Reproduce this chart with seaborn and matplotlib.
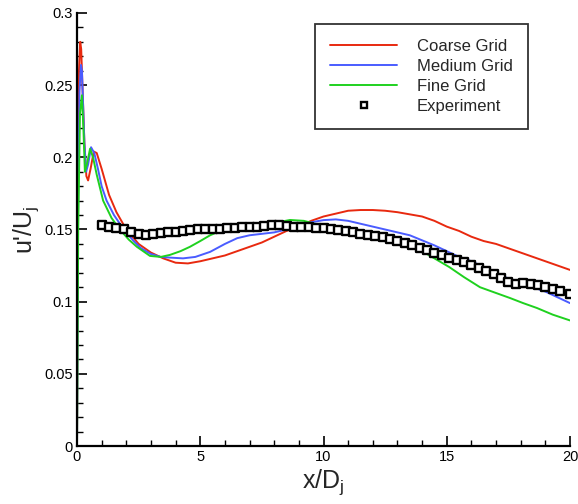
import numpy as np
import pandas as pd
import matplotlib
matplotlib.use("Agg")
import matplotlib.pyplot as plt
from matplotlib.ticker import MultipleLocator, FuncFormatter
from matplotlib.lines import Line2D
import seaborn as sns

# ---------------- data ----------------
coarse_x = [0, 0.03, 0.08, 0.13, 0.17, 0.22, 0.3, 0.38, 0.45, 0.55, 0.68, 0.8, 1.0, 1.3, 1.6,
            2.0, 2.5, 3.0, 3.5, 4.0, 4.5, 5.0, 5.5, 6.0, 6.5, 7.0, 7.5, 8.0, 8.5, 9.0, 9.5,
            10.0, 10.5, 11.0, 11.5, 12.0, 12.5, 13.0, 13.5, 14.0, 14.5, 15.0, 15.5, 16.0,
            16.5, 17.0, 17.5, 18.0, 18.5, 19.0, 19.5, 20.0]
coarse_y = [0, 0.15, 0.26, 0.28, 0.275, 0.25, 0.21, 0.187, 0.184, 0.192, 0.204, 0.203, 0.192,
            0.174, 0.162, 0.150, 0.140, 0.134, 0.130, 0.127, 0.1265, 0.128, 0.130, 0.132,
            0.135, 0.138, 0.141, 0.145, 0.149, 0.152, 0.156, 0.159, 0.161, 0.163, 0.1635,
            0.1635, 0.163, 0.162, 0.1605, 0.159, 0.156, 0.152, 0.149, 0.145, 0.142, 0.140,
            0.137, 0.134, 0.131, 0.128, 0.125, 0.122]

medium_x = [0, 0.04, 0.1, 0.16, 0.2, 0.25, 0.3, 0.37, 0.45, 0.57, 0.7, 0.85, 1.0, 1.2, 1.5,
            1.9, 2.3, 2.6, 3.0, 3.4, 3.8, 4.3, 4.8, 5.4, 6.0, 6.5, 7.0, 7.5, 8.0, 8.5, 9.0,
            9.5, 10.0, 10.5, 11.0, 11.5, 12.0, 12.5, 13.0, 13.5, 14.0, 14.5, 15.0, 15.5,
            16.0, 16.5, 17.0, 17.5, 18.0, 18.5, 19.0, 19.5, 20.0]
medium_y = [0, 0.16, 0.245, 0.264, 0.26, 0.235, 0.21, 0.19, 0.195, 0.207, 0.203, 0.192,
            0.180, 0.170, 0.160, 0.150, 0.142, 0.137, 0.133, 0.131, 0.1305, 0.130, 0.131,
            0.1345, 0.140, 0.144, 0.146, 0.147, 0.148, 0.150, 0.153, 0.155, 0.1565, 0.157,
            0.156, 0.154, 0.152, 0.150, 0.148, 0.146, 0.1425, 0.139, 0.135, 0.131, 0.128,
            0.124, 0.120, 0.116, 0.113, 0.110, 0.107, 0.103, 0.099]

fine_x = [0, 0.05, 0.12, 0.2, 0.26, 0.32, 0.4, 0.53, 0.65, 0.8, 1.06, 1.4, 1.74, 2.1, 2.43,
          2.96, 3.4, 3.77, 4.2, 4.58, 5.0, 5.4, 5.8, 6.2, 6.9, 7.5, 8.0, 8.64, 9.2, 9.86,
          10.5, 11.0, 11.5, 12.0, 12.5, 13.0, 13.5, 13.9, 14.5, 15.1, 15.7, 16.35, 17.0,
          17.57, 18.1, 18.66, 19.3, 20.0]
fine_y = [0, 0.15, 0.23, 0.243, 0.22, 0.19, 0.195, 0.206, 0.200, 0.188, 0.170, 0.158, 0.150,
          0.143, 0.138, 0.1317, 0.131, 0.1324, 0.135, 0.138, 0.142, 0.146, 0.149, 0.151,
          0.1525, 0.1535, 0.1545, 0.1566, 0.156, 0.153, 0.1515, 0.1505, 0.1495, 0.148,
          0.146, 0.143, 0.140, 0.136, 0.130, 0.124, 0.117, 0.110, 0.106, 0.1025, 0.099,
          0.0956, 0.091, 0.087]

exp_x = [1.0, 1.3, 1.6, 1.9, 2.2, 2.5, 2.8, 3.1, 3.4, 3.7, 4.0, 4.3, 4.6, 4.9, 5.2, 5.5,
         5.8, 6.1, 6.4, 6.7, 7.0, 7.3, 7.6, 7.9, 8.2, 8.5, 8.8, 9.1, 9.4, 9.7, 10.0, 10.3,
         10.6, 10.9, 11.2, 11.5, 11.8, 12.1, 12.4, 12.7, 13.0, 13.3, 13.6, 13.9, 14.2,
         14.5, 14.8, 15.1, 15.4, 15.7, 16.0, 16.3, 16.6, 16.9, 17.2, 17.5, 17.8, 18.1,
         18.4, 18.7, 19.0, 19.3, 19.6, 20.0]
exp_y = [0.153, 0.152, 0.151, 0.150, 0.148, 0.147, 0.1465, 0.147, 0.1475, 0.148, 0.1485,
         0.149, 0.1495, 0.150, 0.150, 0.150, 0.1505, 0.151, 0.151, 0.1515, 0.152, 0.152,
         0.1525, 0.153, 0.153, 0.1525, 0.152, 0.152, 0.1515, 0.151, 0.151, 0.150, 0.1495,
         0.149, 0.148, 0.147, 0.146, 0.1455, 0.1445, 0.1435, 0.142, 0.1405, 0.139, 0.137,
         0.1355, 0.134, 0.1325, 0.1305, 0.129, 0.1275, 0.1255, 0.1235, 0.1215, 0.119,
         0.1165, 0.1135, 0.1125, 0.113, 0.1125, 0.1115, 0.110, 0.109, 0.1075, 0.1055]

series_names = ["Coarse Grid", "Medium Grid", "Fine Grid"]
series_colors = ["#e8290f", "#4a5cff", "#1fd11f"]

# ---------------- plot ----------------
sns.set_style("white")
plt.rcParams["font.family"] = ["Liberation Sans", "DejaVu Sans"]
plt.rcParams["mathtext.fontset"] = "custom"
plt.rcParams["mathtext.rm"] = "Liberation Sans"
plt.rcParams["mathtext.it"] = "Liberation Sans"

fig = plt.figure(figsize=(5.78, 5.04), dpi=100)
ax = fig.add_axes([77 / 578, 58 / 504, 493 / 578, 433 / 504])

lines_df = pd.concat([
    pd.DataFrame({"x": coarse_x, "y": coarse_y, "s": series_names[0]}),
    pd.DataFrame({"x": medium_x, "y": medium_y, "s": series_names[1]}),
    pd.DataFrame({"x": fine_x, "y": fine_y, "s": series_names[2]}),
], ignore_index=True)

sns.lineplot(data=lines_df, x="x", y="y", hue="s", hue_order=series_names,
             palette=series_colors, sort=False, estimator=None, linewidth=1.4,
             ax=ax, legend=False)
sns.scatterplot(x=exp_x, y=exp_y, marker="s", s=36, facecolor="white",
                edgecolor="black", linewidth=1.7, ax=ax, zorder=5, legend=False)

ax.set_xlim(0, 20)
ax.set_ylim(0, 0.3)
ax.xaxis.set_major_locator(MultipleLocator(5))
ax.xaxis.set_minor_locator(MultipleLocator(1))
ax.yaxis.set_major_locator(MultipleLocator(0.05))
ax.yaxis.set_minor_locator(MultipleLocator(0.01))
fmt = FuncFormatter(lambda v, p: ("%g" % round(v, 4)))
ax.xaxis.set_major_formatter(fmt)
ax.yaxis.set_major_formatter(fmt)

for side in ["top", "right"]:
    ax.spines[side].set_visible(False)
for side in ["left", "bottom"]:
    ax.spines[side].set_linewidth(1.6)
    ax.spines[side].set_color("black")

ax.tick_params(which="both", direction="in", colors="black", labelsize=10.5)
ax.tick_params(which="major", length=7, width=1.2, pad=3)
ax.tick_params(which="minor", length=4, width=1.0)
ax.tick_params(axis="both", which="both", top=False, right=False, bottom=True, left=True)

ax.set_xlabel(r"x/D$_\mathregular{j}$", fontsize=18, labelpad=2)
ax.set_ylabel(r"u'/U$_\mathregular{j}$", fontsize=18, labelpad=2)

handles = [Line2D([0], [0], color=c, lw=1.4) for c in series_colors]
handles.append(Line2D([0], [0], ls="none", marker="s", markersize=5,
                      markerfacecolor="white", markeredgecolor="black", markeredgewidth=1.7))
leg = ax.legend(handles, series_names + ["Experiment"], loc="upper right",
                bbox_to_anchor=(528 / 578, 480 / 504), bbox_transform=fig.transFigure,
                frameon=True, fancybox=False, fontsize=12, handlelength=4.0,
                handletextpad=1.2, borderpad=0.9, labelspacing=0.3, borderaxespad=0)
leg.get_frame().set_edgecolor("black")
leg.get_frame().set_linewidth(1.3)

fig.savefig("out.png", dpi=100)
